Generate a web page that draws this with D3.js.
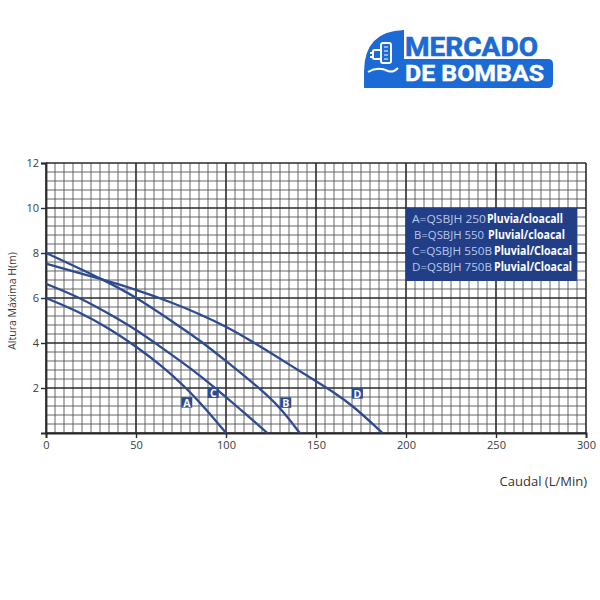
<!DOCTYPE html>
<html>
<head>
<meta charset="utf-8">
<script src="https://cdn.jsdelivr.net/npm/d3@7/dist/d3.min.js"></script>
<style>
  html, body { margin: 0; padding: 0; background: #fff; }
  svg { display: block; }
</style>
</head>
<body>
<svg id="chart" width="600" height="600"></svg>
<script>
// ---------- DATA ----------
const xMajorTicks = [0, 50, 100, 150, 200, 250, 300];
const yMajorTicks = [2, 4, 6, 8, 10, 12];
const xMinorStep = 5;
const yMinorStep = 0.4;

const seriesNames = ["A", "B", "C", "D"];
const curveA = [[0,6],[18,5.4],[35,4.65],[50,3.85],[65,2.95],[78,2.0],[89,1.05],[100,0]];
const curveB = [[0,8],[15,7.45],[32,6.8],[50,6.05],[73,4.8],[85,4.15],[100,3.2],[118.5,2.0],[130,1.15],[141,0]];
const curveC = [[0,6.63],[18,6.05],[35,5.3],[50,4.6],[65,3.75],[80,2.9],[94,2.0],[108,1.05],[123,0]];
const curveD = [[0,7.53],[32,6.81],[50,6.37],[70,5.8],[85,5.3],[100,4.74],[116,4.0],[135,3.05],[150,2.3],[160,1.8],[170,1.25],[187,0]];
const curveLabelPos = [[78.2,1.35],[133.2,1.34],[92.9,1.78],[173,1.75]];

const legendModels = ["A=QSBJH 250", "B=QSBJH 550", "C=QSBJH 550B", "D=QSBJH 750B"];
const legendUses = ["Pluvia/cloacall", "Pluvial/cloacal", "Pluvial/Cloacal", "Pluvial/Cloacal"];

const yTitle = "Altura Máxima H(m)";
const xTitle = "Caudal (L/Min)";

// ---------- LAYOUT ----------
const svg = d3.select("#chart");
const L = 46, R = 586, T = 163, B = 433;
const x = d3.scaleLinear().domain([0, 300]).range([L, R]);
const y = d3.scaleLinear().domain([0, 12]).range([B, T]);
const curveColor = "#2d4b93";

// ---------- LOGO ----------
const logo = svg.append("g");
const logoBlue = "#1c6ad5";
logo.append("path")
  .attr("d", "M364,88 L364,72 Q364,31 404,30 L404,59 L548,59 Q553,59 553,64 L553,83 Q553,88 548,88 Z")
  .attr("fill", logoBlue);
// icon (pump + hand)
const ic = logo.append("g").attr("fill", "none").attr("stroke", "#fff").attr("stroke-width", 2);
ic.append("rect").attr("x", 381).attr("y", 43).attr("width", 10).attr("height", 20).attr("rx", 2);
ic.append("rect").attr("x", 373).attr("y", 50).attr("width", 8).attr("height", 9).attr("rx", 1.5);
ic.append("path").attr("d", "M370,53 L373,53 M370,57 L373,57");
ic.append("path").attr("d", "M368,72 Q378,66 388,71 Q393,73 398,68");
ic.append("path").attr("d", "M384,47 L388,47 M384,51 L388,51 M384,55 L388,55 M384,59 L388,59").attr("stroke-width", 1);
logo.append("text")
  .attr("x", 405).attr("y", 56)
  .attr("font-family", "Roboto, 'Open Sans', sans-serif")
  .attr("font-weight", 700).attr("font-size", 26)
  .attr("fill", logoBlue).attr("stroke", logoBlue).attr("stroke-width", 0.6)
  .attr("textLength", 133).attr("lengthAdjust", "spacingAndGlyphs")
  .text("MERCADO");
logo.append("text")
  .attr("x", 405).attr("y", 81)
  .attr("font-family", "Roboto, 'Open Sans', sans-serif")
  .attr("font-weight", 700).attr("font-size", 22)
  .attr("fill", "#fff").attr("stroke", "#fff").attr("stroke-width", 0.4)
  .attr("textLength", 139).attr("lengthAdjust", "spacingAndGlyphs")
  .text("DE BOMBAS");

// ---------- GRID ----------
const grid = svg.append("g");
const xMinor = d3.range(0, 300 + 0.001, xMinorStep).filter(v => v % 50 !== 0);
const yMinor = d3.range(0, 12 + 0.001, yMinorStep).map(v => +v.toFixed(2)).filter(v => Math.abs(v / 2 - Math.round(v / 2)) > 1e-6);

grid.selectAll("line.xmin").data(xMinor).join("line")
  .attr("x1", d => x(d)).attr("x2", d => x(d)).attr("y1", T).attr("y2", B)
  .attr("stroke", "#555").attr("stroke-width", 0.9);
grid.selectAll("line.ymin").data(yMinor).join("line")
  .attr("x1", L).attr("x2", R).attr("y1", d => y(d)).attr("y2", d => y(d))
  .attr("stroke", "#555").attr("stroke-width", 0.9);
grid.selectAll("line.xmaj").data(xMajorTicks).join("line")
  .attr("x1", d => x(d)).attr("x2", d => x(d)).attr("y1", T).attr("y2", B)
  .attr("stroke", "#2a2a2a").attr("stroke-width", 1.6);
grid.selectAll("line.ymaj").data([0].concat(yMajorTicks)).join("line")
  .attr("x1", L).attr("x2", R).attr("y1", d => y(d)).attr("y2", d => y(d))
  .attr("stroke", "#2a2a2a").attr("stroke-width", 1.6);

// ---------- AXES ----------
const xAxis = svg.append("g").attr("transform", `translate(0,${B})`)
  .call(d3.axisBottom(x).tickValues(xMajorTicks).tickSize(5).tickPadding(3).tickFormat(d3.format("d")));
const yAxis = svg.append("g").attr("transform", `translate(${L},0)`)
  .call(d3.axisLeft(y).tickValues(yMajorTicks).tickSize(5).tickPadding(2).tickFormat(d3.format("d")));
[xAxis, yAxis].forEach(g => {
  g.select(".domain").attr("stroke", "#2a2a2a").attr("stroke-width", 1.8);
  g.selectAll(".tick line").attr("stroke", "#2a2a2a").attr("stroke-width", 1.4);
  g.selectAll(".tick text").attr("fill", "#3a3a3a")
    .attr("font-family", "'Open Sans', sans-serif").attr("font-size", 11);
});

svg.append("text")
  .attr("transform", `translate(16,${(T + B) / 2 + 3}) rotate(-90)`)
  .attr("text-anchor", "middle")
  .attr("font-family", "'Open Sans', sans-serif").attr("font-size", 10.5)
  .attr("fill", "#3a3a3a")
  .text(yTitle);
svg.append("text")
  .attr("x", 587).attr("y", 486).attr("text-anchor", "end")
  .attr("font-family", "'Open Sans', sans-serif").attr("font-size", 13)
  .attr("fill", "#333")
  .text(xTitle);

// ---------- CURVES ----------
const curves = [curveA, curveB, curveC, curveD];
const line = d3.line().x(d => x(d[0])).y(d => y(d[1])).curve(d3.curveBasis);
svg.append("g").selectAll("path").data(curves).join("path")
  .attr("d", line)
  .attr("fill", "none").attr("stroke", curveColor).attr("stroke-width", 2.3);

const lab = svg.append("g").selectAll("g").data(seriesNames).join("g")
  .attr("transform", (d, i) => `translate(${x(curveLabelPos[i][0])},${y(curveLabelPos[i][1])})`);
lab.append("rect").attr("x", -5.5).attr("y", -5.5).attr("width", 11).attr("height", 10.5)
  .attr("fill", curveColor);
lab.append("text").attr("text-anchor", "middle").attr("y", 4)
  .attr("font-family", "'Open Sans', sans-serif").attr("font-weight", 700).attr("font-size", 10.5)
  .attr("fill", "#fff").text(d => d);

// ---------- LEGEND ----------
const lg = svg.append("g");
lg.append("rect").attr("x", 406).attr("y", 208).attr("width", 171).attr("height", 73)
  .attr("fill", "#213e86");
const modelWidths = [74, 70, 80, 80];
const useWidths = [76, 77, 78, 78];
const useStart = [487, 488, 494, 494];
const baselines = [223, 239, 255, 271];
legendModels.forEach((m, i) => {
  lg.append("text").attr("x", i === 1 ? 414 : 412).attr("y", baselines[i])
    .attr("font-family", "'Open Sans', sans-serif").attr("font-size", 11.5)
    .attr("fill", "#b9c7ee")
    .attr("textLength", modelWidths[i]).attr("lengthAdjust", "spacingAndGlyphs")
    .text(m);
  lg.append("text").attr("x", useStart[i]).attr("y", baselines[i])
    .attr("font-family", "'Open Sans', sans-serif").attr("font-weight", 700).attr("font-size", 11.5)
    .attr("fill", "#ffffff")
    .attr("textLength", useWidths[i]).attr("lengthAdjust", "spacingAndGlyphs")
    .text(legendUses[i]);
});
</script>
</body>
</html>
